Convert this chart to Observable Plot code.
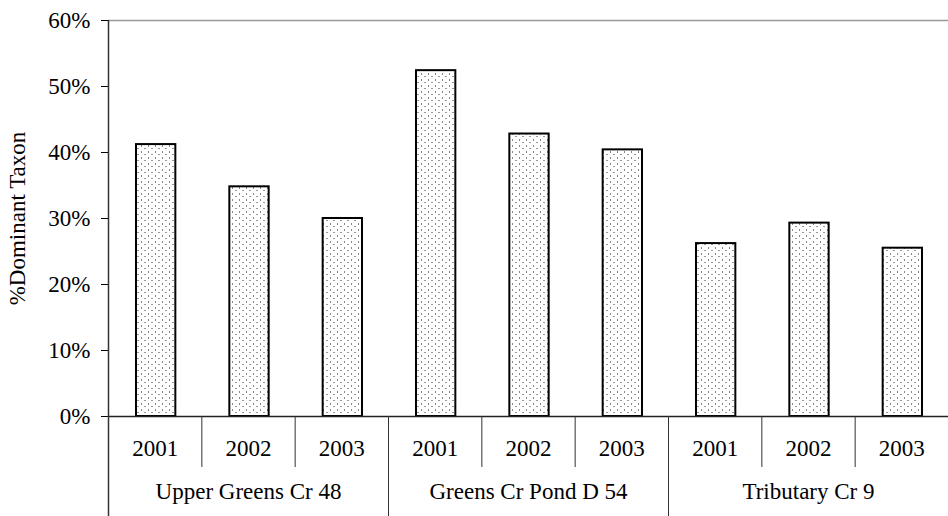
<!DOCTYPE html>
<html><head><meta charset="utf-8">
<script src="https://cdn.jsdelivr.net/npm/d3@7"></script>
<script src="https://cdn.jsdelivr.net/npm/@observablehq/plot@0.6"></script>
<style>
body{margin:0;background:#fff}
#chart svg, #chart svg text{font-family:"Liberation Serif","Times New Roman",Times,"DejaVu Serif",serif !important;}
</style>
</head><body><div id="chart"></div>
<script>
const groups = ["Upper Greens Cr 48", "Greens Cr Pond D 54", "Tributary Cr 9"];
const years = ["2001", "2002", "2003"];
const upperGreens = [0.412, 0.348, 0.300];
const greensPond = [0.524, 0.428, 0.404];
const tributary = [0.262, 0.293, 0.255];
const yTicks = [0, 0.1, 0.2, 0.3, 0.4, 0.5, 0.6];
const yLabel = "%Dominant Taxon";

const seriesByGroup = [upperGreens, greensPond, tributary];
const rows = [];
groups.forEach((g, gi) => years.forEach((yr, yi) =>
  rows.push({group: g, year: yr, value: seriesByGroup[gi][yi], i: gi * years.length + yi})));
const shortSeps = rows.filter(d => d.i % years.length !== 0).map(d => d.i);
const longSeps = groups.map((g, gi) => gi * years.length).filter(v => v > 0);
const groupCenters = groups.map((g, gi) => ({group: g, c: gi * years.length + years.length / 2}));

const serif = "'Liberation Serif', 'Times New Roman', Times, 'DejaVu Serif', serif";
const chart = Plot.plot({
  width: 948, height: 516,
  marginLeft: 108, marginRight: 0, marginTop: 20, marginBottom: 100,
  style: {fontFamily: serif, fontSize: "23px", color: "#000", background: "#fff"},
  x: {domain: [0, rows.length], axis: null},
  y: {domain: [0, 0.6], ticks: yTicks, tickFormat: d3.format(".0%"), tickSize: 7, tickPadding: 11, label: null},
  marks: [
    Plot.ruleY([0.6], {stroke: "#999", strokeWidth: 1.5}),
    Plot.rect(rows, {x1: "i", x2: d => d.i + 1, y1: 0, y2: "value", insetLeft: 28, insetRight: 26,
      fill: "url(#dots)", stroke: "#000", strokeWidth: 2}),
    Plot.ruleY([0], {stroke: "#222", strokeWidth: 1.5}),
    Plot.ruleX([0], {stroke: "#333", strokeWidth: 1.5, insetBottom: -100}),
    Plot.ruleX(shortSeps, {y1: 0, insetBottom: -51, stroke: "#333", strokeWidth: 1}),
    Plot.ruleX(longSeps, {y1: 0, insetBottom: -100, stroke: "#333", strokeWidth: 1}),
    Plot.text(rows, {x: d => d.i + 0.5, y: 0, text: "year", dy: 32, fontSize: 23, fontFamily: serif, fill: "#000"}),
    Plot.text(groupCenters, {x: "c", y: 0, text: "group", dy: 75, fontSize: 23, fontFamily: serif, fill: "#000"}),
    Plot.text([yLabel], {frameAnchor: "left", rotate: -90, dx: -91, textAnchor: "middle", text: d => d, fontSize: 23, fontFamily: serif, fill: "#000"})
  ]
});

const ns = "http://www.w3.org/2000/svg";
const defs = document.createElementNS(ns, "defs");
defs.innerHTML = '<pattern id="dots" width="7" height="6" patternUnits="userSpaceOnUse">' +
  '<rect width="7" height="6" fill="#fff"/>' +
  '<rect x="1" y="1" width="1" height="2" fill="#888"/>' +
  '<rect x="4" y="4" width="2" height="1" fill="#999"/></pattern>';
chart.insertBefore(defs, chart.firstChild);
document.getElementById("chart").appendChild(chart);
</script>
</body></html>
